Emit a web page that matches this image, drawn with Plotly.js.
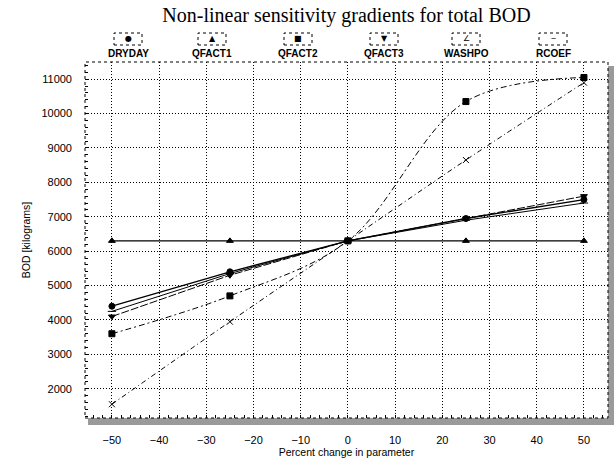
<!DOCTYPE html>
<html>
<head>
<meta charset="utf-8">
<script src="https://cdn.plot.ly/plotly-3.0.1.min.js"></script>
<style>html,body{margin:0;padding:0;background:#fff;}#chart{width:614px;height:463px;}</style>
</head>
<body>
<div id="chart"></div>
<script>
// ---- data ----
const xVals = [-50, -25, 0, 25, 50];
const seriesNames = ["DRYDAY", "QFACT1", "QFACT2", "QFACT3", "WASHPO", "RCOEF"];
const dryday = [4400, 5400, 6300, 6950, 7500];
const qfact1 = [6300, 6300, 6300, 6300, 6300];
const qfact2 = [3600, 4700, 6300, 10350, 11050];
const qfact3 = [4100, 5300, 6300, 6950, 7600];
const washpo = [1550, 3950, 6300, 8650, 10900];
const rcoef  = [4250, 5350, 6300, 6900, 7400];
const legendGlyphs = ["\u25CF", "\u25B2", "\u25A0", "\u25BC", "\u2220", "\u2012"];
const xTickVals = [-50, -40, -30, -20, -10, 0, 10, 20, 30, 40, 50];
const yTickVals = [2000, 3000, 4000, 5000, 6000, 7000, 8000, 9000, 10000, 11000];

// ---- styles ----
const seriesData = [dryday, qfact1, qfact2, qfact3, washpo, rcoef];
const styles = [
  {symbol: "circle", dash: "solid", shape: "linear", width: 1.3},
  {symbol: "triangle-up", dash: "solid", shape: "linear", width: 1.1},
  {symbol: "square", dash: "6px,3px,2px,3px", shape: "spline", width: 1},
  {symbol: "triangle-down", dash: "8px,2px", shape: "linear", width: 1},
  {symbol: "x-thin-open", dash: "5px,3px,1px,3px", shape: "spline", width: 1},
  {symbol: "line-ew-open", dash: "solid", shape: "linear", width: 1}
];

const traces = seriesNames.map((name, i) => ({
  type: "scatter",
  mode: "lines+markers",
  name: name,
  x: xVals,
  y: seriesData[i],
  line: {color: "#000", width: styles[i].width, dash: styles[i].dash, shape: styles[i].shape, smoothing: 1},
  marker: {symbol: styles[i].symbol, size: 6, color: "#000", line: {color: "#000", width: 1}},
  showlegend: false
}));

// custom legend (glyph in dotted box above label)
const legendX = [128, 212, 298, 384, 466, 553];
const plotL = 85, plotR = 608, plotT = 62, plotB = 418;
const pw = plotR - plotL, ph = plotB - plotT;
const px2x = p => (p - plotL) / pw;
const py2y = p => (plotB - p) / ph;

const annotations = [];
const shapes = [];
seriesNames.forEach((name, i) => {
  const cx = px2x(legendX[i]);
  annotations.push({
    xref: "paper", yref: "paper", x: cx, y: py2y(53), text: "<b>" + name + "</b>", showarrow: false,
    font: {family: "Liberation Sans, Arial, sans-serif", size: 10, color: "#000"},
    xanchor: "center", yanchor: "middle"
  });
  annotations.push({
    xref: "paper", yref: "paper", x: cx, y: py2y(38.5), text: legendGlyphs[i], showarrow: false,
    font: {family: "DejaVu Sans, sans-serif", size: 8, color: "#000"},
    xanchor: "center", yanchor: "middle"
  });
  shapes.push({
    type: "rect", xref: "paper", yref: "paper",
    x0: px2x(legendX[i] - 14), x1: px2x(legendX[i] + 14),
    y0: py2y(45), y1: py2y(33),
    line: {color: "#000", width: 1, dash: "dot"}, fillcolor: "rgba(0,0,0,0)"
  });
});

// dotted frame around plot
shapes.push({type: "rect", xref: "paper", yref: "paper", x0: 0, x1: 1, y0: 0, y1: 1,
  line: {color: "#000", width: 1, dash: "dot"}, fillcolor: "rgba(0,0,0,0)"});
// shadow frame right & bottom
shapes.push({type: "rect", xref: "paper", yref: "paper", x0: 1, x1: px2x(614), y0: py2y(425), y1: py2y(66),
  line: {width: 0}, fillcolor: "#9a9a9a", layer: "below"});
shapes.push({type: "rect", xref: "paper", yref: "paper", x0: px2x(88), x1: px2x(614), y0: py2y(425), y1: 0,
  line: {width: 0}, fillcolor: "#9a9a9a", layer: "below"});

const layout = {
  width: 614, height: 463,
  margin: {l: plotL, r: 614 - plotR, t: plotT, b: 463 - plotB},
  paper_bgcolor: "#fff", plot_bgcolor: "#fff",
  title: {text: "Non-linear sensitivity gradients for total BOD", x: 0.5, xref: "paper", xanchor: "center",
    y: 1 - 15 / 463, yanchor: "middle", yref: "container",
    font: {family: "Liberation Serif, Times New Roman, serif", size: 20, color: "#000"}},
  xaxis: {
    range: [-55.7, 55.1], tickvals: xTickVals, ticks: "", ticklabelstandoff: 14,
    showgrid: true, gridcolor: "#000", gridwidth: 1, griddash: "1px,2px",
    zeroline: false, showline: false,
    minor: {ticks: "inside", dtick: 2, tick0: 0, ticklen: 3, tickcolor: "#000", showgrid: false},
    tickfont: {family: "Liberation Sans, Arial, sans-serif", size: 11, color: "#000"},
    title: {text: "Percent change in parameter", standoff: 2, font: {family: "Liberation Sans, Arial, sans-serif", size: 10.5, color: "#000"}}
  },
  yaxis: {
    range: [1150, 11500], tickvals: yTickVals, tickformat: "d", ticks: "", ticklabelstandoff: 12,
    showgrid: true, gridcolor: "#000", gridwidth: 1, griddash: "1px,2px",
    zeroline: false, showline: false,
    minor: {ticks: "inside", dtick: 200, tick0: 0, ticklen: 3, tickcolor: "#000", showgrid: false},
    tickfont: {family: "Liberation Sans, Arial, sans-serif", size: 11, color: "#000"},
    title: {text: "BOD [kilograms]", standoff: 8, font: {family: "Liberation Sans, Arial, sans-serif", size: 10.5, color: "#000"}}
  },
  annotations: annotations,
  shapes: shapes,
  showlegend: false
};

Plotly.newPlot("chart", traces, layout, {displayModeBar: false, staticPlot: true});
</script>
</body>
</html>
